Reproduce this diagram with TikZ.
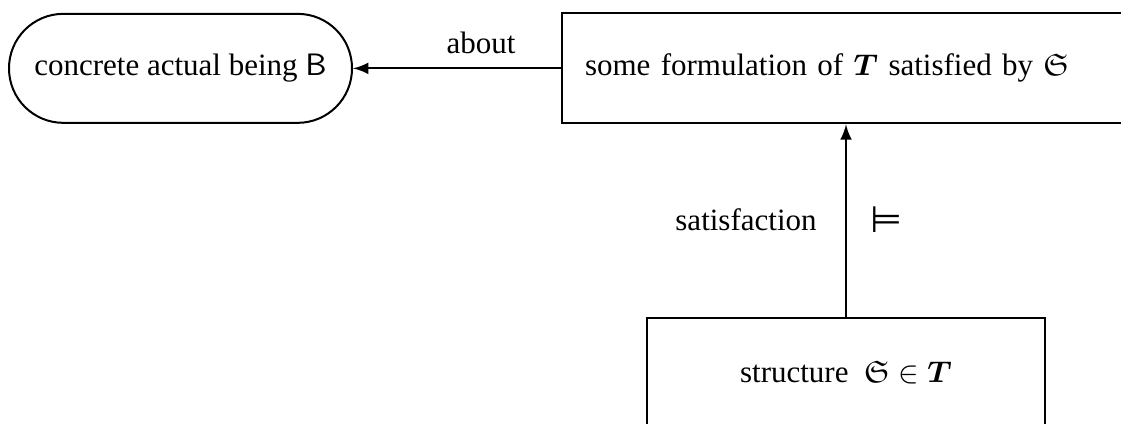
\documentclass[tikz,border=0pt]{standalone}
\usepackage{amsmath,amssymb}
\usepackage{fontspec}
\setmainfont{Liberation Serif}
\newfontfamily\symbfont{DejaVu Sans}

\begin{document}
\begin{tikzpicture}[x=1pt,y=1pt,semithick,font=\fontsize{9.3}{11}\selectfont]
		\useasboundingbox (0,0) rectangle (336.3,-126.9);
		\node[draw,rectangle,rounded corners=16.3pt,minimum width=102.9pt,minimum height=32.7pt] (being) at (54.15,-20.5) {concrete actual being \textsf{B}};
		\node[draw,rectangle,text width=156.6pt,align=left,inner xsep=6.9pt,minimum height=33pt] (formula) at (253.8,-20.5) {some formulation of $\boldsymbol{T}$ satisfied by $\mathfrak{S}$};
		\node[draw,rectangle,minimum width=119.4pt,minimum height=33pt] (structure) at (253.8,-111.9) {structure\ \ $\mathfrak{S}\in\boldsymbol{T}$};
		\draw[-latex] (formula) -- (being);
		\draw[-latex] (structure) -- (formula);
		\node[inner sep=1pt] (about) at (144.3,-12.9) {about};
		\node[inner sep=1pt] (satlabel) at (223.8,-66) {satisfaction};
		\node[inner sep=0pt,font=\symbfont\fontsize{11}{13}\selectfont] (models) at (265.8,-66) {⊨};
		\end{tikzpicture}
\end{document}
